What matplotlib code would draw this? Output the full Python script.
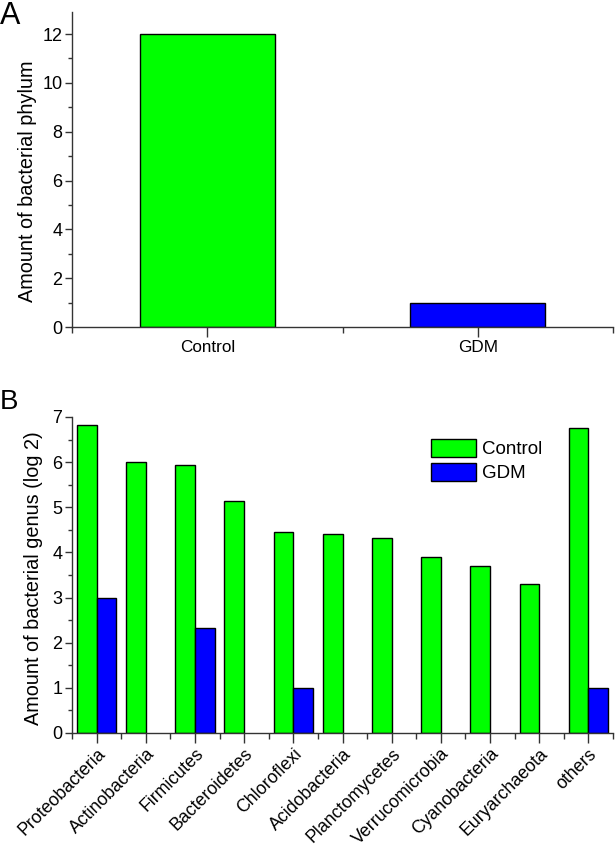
"""
Bacterial phylum counts and genus amounts, Control vs GDM.
"""

import matplotlib

matplotlib.use("Agg")

import matplotlib.pyplot as plt
import numpy as np
from matplotlib.ticker import MultipleLocator


GROUPS = ["Control", "GDM"]
PHYLUM_COUNTS = [12, 1]

PHYLA = [
    "Proteobacteria",
    "Actinobacteria",
    "Firmicutes",
    "Bacteroidetes",
    "Chloroflexi",
    "Acidobacteria",
    "Planctomycetes",
    "Verrucomicrobia",
    "Cyanobacteria",
    "Euryarchaeota",
    "others",
]
CONTROL_GENUS = [6.82, 6.0, 5.93, 5.13, 4.46, 4.40, 4.31, 3.90, 3.69, 3.31, 6.75]
GDM_GENUS = [3.0, 0, 2.32, 0, 1.0, 0, 0, 0, 0, 0, 1.0]

GREEN = "#00ff00"
BLUE = "#0000ff"
AXIS_COLOR = "#333333"

plt.rcParams["font.family"] = ["Liberation Sans", "DejaVu Sans"]
plt.rcParams["font.size"] = 12.3


def style_axes(ax):
    for side in ("top", "right"):
        ax.spines[side].set_visible(False)
    for side in ("left", "bottom"):
        ax.spines[side].set_color(AXIS_COLOR)
        ax.spines[side].set_linewidth(1.0)
    ax.tick_params(which="major", direction="out", length=5, width=1,
                   color=AXIS_COLOR, pad=2)
    ax.tick_params(which="minor", direction="out", length=3, width=1,
                   color=AXIS_COLOR)
    ax.tick_params(axis="y", which="major", labelsize=13)
    ax.tick_params(axis="x", which="major", length=7)
    ax.tick_params(axis="x", which="minor", length=4)


fig = plt.figure(figsize=(6.15, 8.47), dpi=100)

# panel A
ax_a = fig.add_axes([0.1171, 0.6139, 0.8797, 0.3719])
x_a = np.arange(len(GROUPS)) + 0.5
ax_a.bar(x_a, PHYLUM_COUNTS, width=0.5, color=[GREEN, BLUE],
         edgecolor="black", linewidth=1.0)
ax_a.set_xlim(0, len(GROUPS))
ax_a.set_ylim(0, 12.9)
ax_a.set_xticks(x_a)
ax_a.set_xticklabels(GROUPS)
ax_a.set_xticks(np.arange(len(GROUPS) + 1), minor=True)
ax_a.yaxis.set_major_locator(MultipleLocator(2))
ax_a.yaxis.set_minor_locator(MultipleLocator(1))
ax_a.set_ylabel("Amount of bacterial phylum", fontsize=14.3)
ax_a.yaxis.set_label_coords(-0.0647, 0.462)
style_axes(ax_a)
fig.text(0.0, 0.999, "A", fontsize=22, ha="left", va="top")

# panel B
ax_b = fig.add_axes([0.1171, 0.1346, 0.8797, 0.3731])
x_b = np.arange(len(PHYLA)) + 0.5
ax_b.bar(x_b - 0.2, CONTROL_GENUS, width=0.4, color=GREEN,
         edgecolor="black", linewidth=1.0, label="Control")
gdm = np.array(GDM_GENUS, dtype=float)
mask = gdm > 0
ax_b.bar(x_b[mask] + 0.2, gdm[mask], width=0.4, color=BLUE,
         edgecolor="black", linewidth=1.0, label="GDM")
ax_b.set_xlim(0, len(PHYLA))
ax_b.set_ylim(0, 7)
ax_b.set_xticks(x_b)
ax_b.set_xticklabels(PHYLA, rotation=45, ha="right", rotation_mode="anchor",
                     fontsize=12.8)
ax_b.set_xticks(np.arange(len(PHYLA) + 1), minor=True)
ax_b.yaxis.set_major_locator(MultipleLocator(1))
ax_b.yaxis.set_minor_locator(MultipleLocator(0.5))
ax_b.set_ylabel("Amount of bacterial genus (log 2)", fontsize=14.3)
ax_b.yaxis.set_label_coords(-0.0536, 0.49)
style_axes(ax_b)
ax_b.legend(loc="upper left", bbox_to_anchor=(0.65, 0.955), frameon=False,
            fontsize=13.5, handlelength=2.4, handleheight=1.1,
            handletextpad=0.3, labelspacing=0.25, borderaxespad=0)
fig.text(0.0, 0.541, "B", fontsize=20, ha="left", va="top")

fig.savefig("out.png", dpi=100)
plt.close(fig)
